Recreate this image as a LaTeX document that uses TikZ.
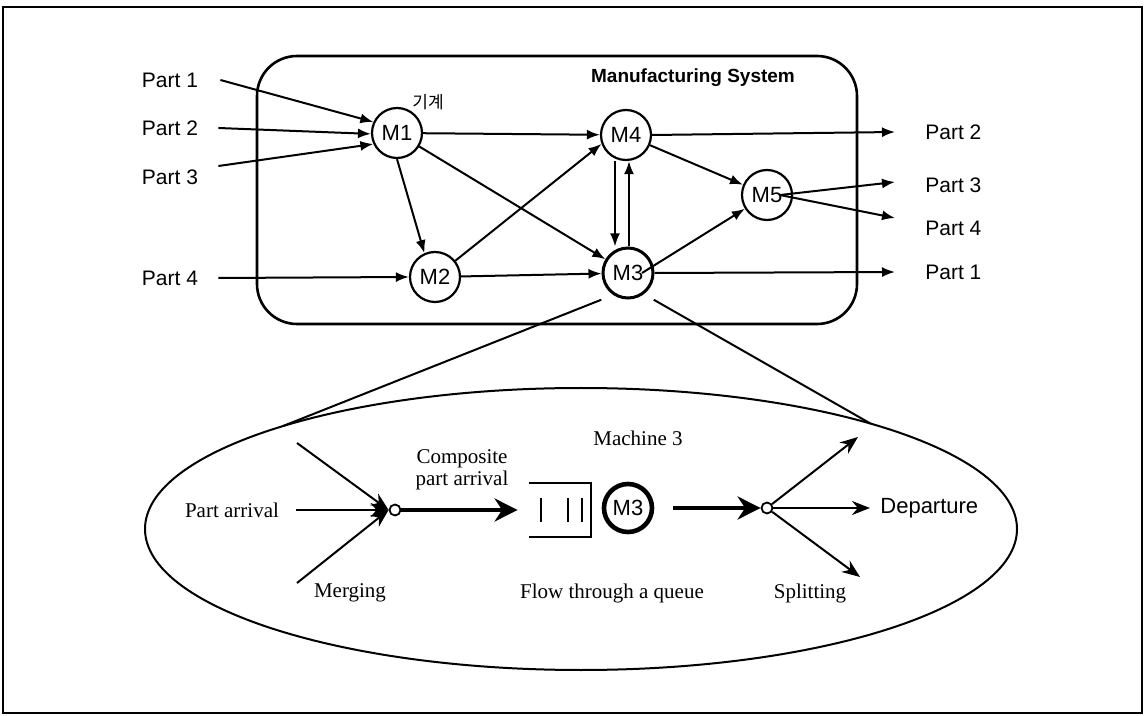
\documentclass[tikz,border=0pt]{standalone}
\usepackage{fontspec}
\setmainfont{Liberation Serif}
\setsansfont{Liberation Sans}
\newfontfamily\krfont{Noto Sans CJK KR}
\usetikzlibrary{positioning,arrows.meta,shapes.geometric}

\begin{document}
\begin{tikzpicture}[x=0.5pt,y=-0.5pt,font=\sffamily]
% ---- styles ----
\tikzstyle{mach}=[draw,circle,line width=1.1pt,minimum size=25pt,inner sep=0pt,
  font=\sffamily\fontsize{11}{13}\selectfont]
\tikzstyle{partlbl}=[inner sep=0pt,font=\sffamily\fontsize{10.5}{12}\selectfont]
\tikzstyle{serif}=[inner sep=0pt,font=\rmfamily\fontsize{10.5}{11}\selectfont]
\tikzstyle{flow}=[line width=1pt,-{Latex[length=6.5pt,width=5pt]}]
\tikzstyle{thinflow}=[line width=1pt,-{Stealth[length=9pt,width=7pt]}]
\tikzstyle{fatflow}=[line width=2pt,-{Stealth[length=11.5pt,width=11.5pt]}]
\tikzstyle{junc}=[draw,circle,fill=white,line width=0.9pt,minimum size=5.5pt,inner sep=0pt]

\useasboundingbox (0,0) rectangle (1146,716);
\draw[line width=1pt] (3,7) rectangle (1142,713);

% ---- system boundary ----
\draw[line width=1.3pt,rounded corners=20pt] (257,56) rectangle (857,324);
\node[font=\sffamily\bfseries\fontsize{9.5}{11}\selectfont] (sysname) at (693,78)
  {Manufacturing System};

% ---- machines ----
\node[mach] (M1) at (397,133) {M1};
\node[mach] (M2) at (435,277) {M2};
\node[mach] (M4) at (626,135) {M4};
\node[mach,line width=1.5pt] (M3) at (628,273) {M3};
\node[mach] (M5) at (767,195) {M5};
\node[font=\krfont\fontsize{8.5}{10}\selectfont] (kr) at (428,102) {기계};

% ---- incoming parts ----
\node[partlbl] (inP1) at (170,80) {Part 1};
\node[partlbl] (inP2) at (170,128) {Part 2};
\node[partlbl] (inP3) at (170,177) {Part 3};
\node[partlbl] (inP4) at (170,278) {Part 4};
\draw[flow] ([xshift=11pt]inP1.east) -- (M1.155);
\draw[flow] ([xshift=10pt]inP2.east) -- (M1.182);
\draw[flow] ([shift={(10pt,5.5pt)}]inP3.east) -- (M1.205);
\draw[flow] ([xshift=10pt]inP4.east) -- (M2.west);

% ---- routes between machines ----
\draw[flow] (M1) -- (M4);
\draw[flow] (M1.south) -- (M2.114);
\draw[flow] (M1) -- (M3);
\draw[flow] (M2) -- (M4.200);
\draw[flow] (M2) -- (M3);
\draw[flow] ([xshift=-5.5pt]M4.south) -- ([xshift=-6.5pt]M3.north);
\draw[flow] ([xshift=0.5pt]M3.north) -- ([xshift=1.5pt]M4.south);
\draw[flow] (M4) -- (M5);
\draw[flow] ([xshift=7pt]M3.center) -- (M5);

% ---- outgoing parts ----
\node[partlbl,anchor=west] (outP2) at (925,132) {Part 2};
\node[partlbl,anchor=west] (outP3) at (925,185) {Part 3};
\node[partlbl,anchor=west] (outP4) at (925,228) {Part 4};
\node[partlbl,anchor=west] (outP1) at (925,272) {Part 1};
\draw[flow] (M4.east) -- ([xshift=-15pt]outP2.west);
\draw[flow] ([xshift=6.5pt]M5.center) -- ([shift={(-15pt,1.5pt)}]outP3.west);
\draw[flow] ([xshift=6.5pt]M5.center) -- ([shift={(-15pt,5pt)}]outP4.west);
\draw[flow] (M3.east) -- ([xshift=-15pt]outP1.west);

% ---- close-up of machine 3 ----
\node[draw,ellipse,line width=1pt,minimum width=436pt,minimum height=141pt,
  inner sep=0pt,outer sep=0pt] (detail) at (581,529) {};
\draw[line width=1pt] ([shift={(-4pt,-4pt)}]M3.south west) -- (detail.161);
\draw[line width=1pt] ([shift={(3.5pt,-4pt)}]M3.south east) -- (detail.20);

% merging
\node[serif] (arrv) at (232,510) {Part arrival};
\node[junc] (mrg) at (395,510) {};
\coordinate (mA) at (297,443);
\coordinate (mC) at (297,583);
\draw[thinflow] (mA) -- (mrg.west);
\draw[thinflow] ([xshift=8.5pt]arrv.east) -- (mrg.west);
\draw[thinflow] (mC) -- (mrg.west);
\node[serif] (mrglbl) at (350,593) {Merging};
\node[serif,align=center] (comp) at (462,470) {Composite\\part arrival};

% queue and machine
\node[minimum width=31pt,minimum height=27pt,inner sep=0pt] (que) at (560,510) {};
\draw[line width=1pt] (que.north west) -- (que.north east) -- (que.south east)
  -- (que.south west);
\foreach \bx in {-19,8,22}
  \draw[line width=1.2pt] (que.center) ++(\bx,-12) -- ++(0,24);
\draw[fatflow] (mrg.east) -- ([xshift=-5.5pt]que.west);
\node[draw,circle,line width=2.3pt,minimum size=24pt,inner sep=0pt,
  font=\sffamily\fontsize{11}{13}\selectfont] (M3d) at (628,508) {M3};
\node[serif] (mlbl) at (638,438) {Machine 3};
\node[serif] (flowq) at (612,593) {Flow through a queue};

% splitting
\node[junc] (spl) at (767,508) {};
\draw[fatflow] ([xshift=9.5pt]M3d.east) -- (spl.west);
\coordinate (sA) at (858,437);
\coordinate (sC) at (860,577);
\node[anchor=west,inner sep=0pt,font=\sffamily\fontsize{11}{13}\selectfont] (dep)
  at (880,508) {Departure};
\draw[thinflow] (spl) -- (sA);
\draw[thinflow] (spl) -- ([xshift=-5pt]dep.west);
\draw[thinflow] (spl) -- (sC);
\node[serif] (splt) at (810,593) {Splitting};

\end{tikzpicture}
\end{document}
